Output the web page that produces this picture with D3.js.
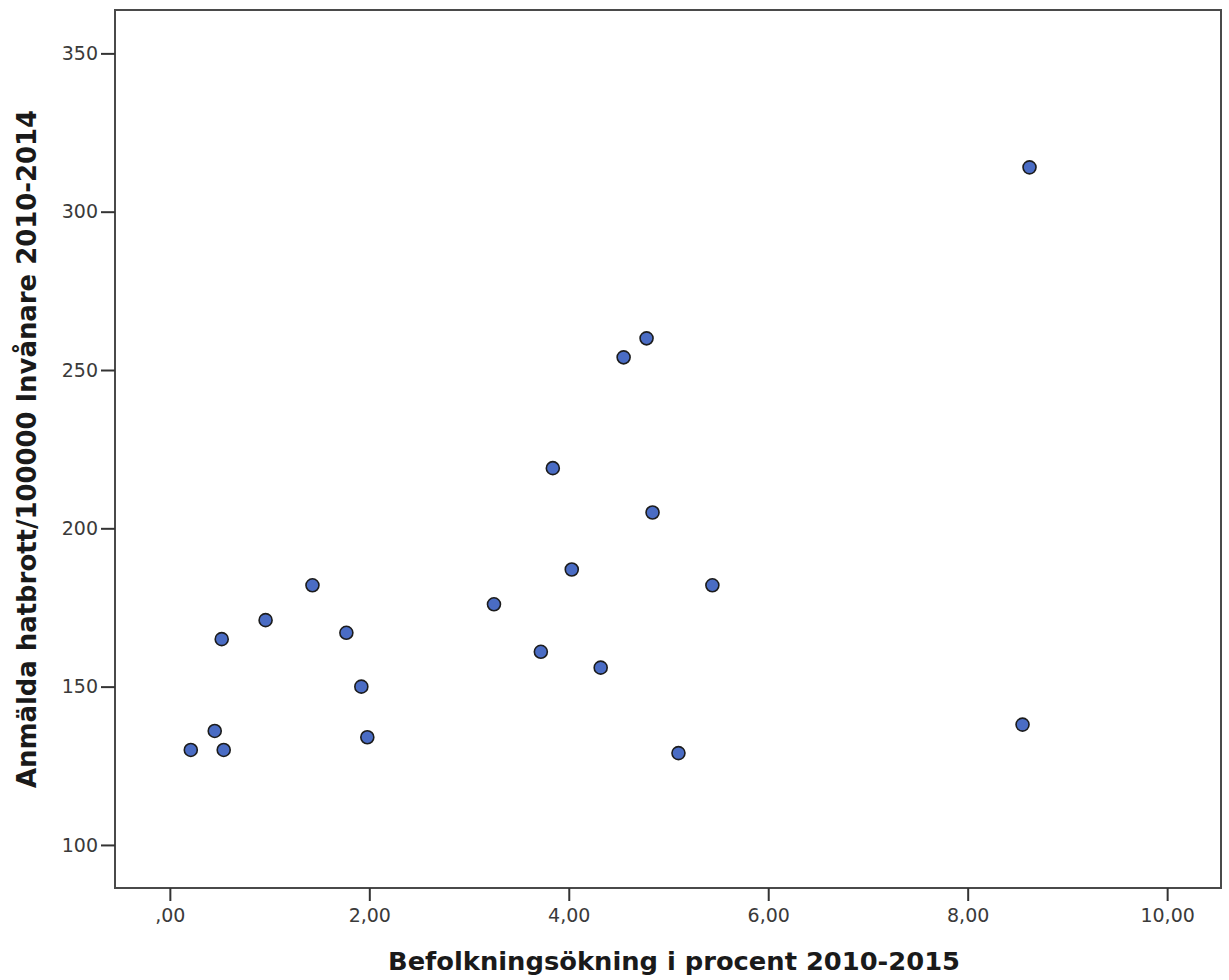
<!DOCTYPE html>
<html>
<head>
<meta charset="utf-8">
<script src="https://cdn.jsdelivr.net/npm/d3@7"></script>
<style>
  html, body { margin: 0; padding: 0; background: #fff; }
  svg { display: block; }
</style>
</head>
<body>
<svg id="chart" width="1229" height="980"></svg>
<script>
// Data
const popGrowth = [0.21, 0.45, 0.54, 0.52, 0.96, 1.43, 1.77, 1.92, 1.98, 3.25, 3.72, 3.84, 4.03, 4.32, 4.55, 4.78, 4.84, 5.10, 5.44, 8.55, 8.62];
const hateCrimes = [130, 136, 130, 165, 171, 182, 167, 150, 134, 176, 161, 219, 187, 156, 254, 260, 205, 129, 182, 138, 314];
const xTicks = [0, 2, 4, 6, 8, 10];
const yTicks = [100, 150, 200, 250, 300, 350];
const xTitle = "Befolkningsökning i procent 2010-2015";
const yTitle = "Anmälda hatbrott/100000 Invånare 2010-2014";

(function () {
const svg = d3.select("#chart");
const pLeft = 115, pRight = 1221, pTop = 10, pBottom = 888;

const x = d3.scaleLinear().domain([-0.55, 10.54]).range([pLeft, pRight]);
const y = d3.scaleLinear().domain([86.4, 363.7]).range([pBottom, pTop]);

const fmtX = v => {
  const s = d3.format(".2f")(v).replace(".", ",");
  return s.startsWith("0,") ? s.slice(1) : s;
};

// frame
svg.append("rect")
  .attr("x", pLeft).attr("y", pTop)
  .attr("width", pRight - pLeft).attr("height", pBottom - pTop)
  .attr("fill", "none").attr("stroke", "#4a4a4a").attr("stroke-width", 2);

// x axis
const xAxis = svg.append("g")
  .attr("transform", `translate(0,${pBottom})`)
  .call(d3.axisBottom(x).tickValues(xTicks).tickFormat(fmtX).tickSize(13).tickPadding(8));
xAxis.select(".domain").remove();
xAxis.selectAll(".tick line").attr("stroke", "#333").attr("stroke-width", 2);
xAxis.selectAll(".tick text")
  .attr("font-family", "DejaVu Sans, sans-serif").attr("font-size", 19).attr("fill", "#3a3a3a");

// y axis
const yAxis = svg.append("g")
  .attr("transform", `translate(${pLeft},0)`)
  .call(d3.axisLeft(y).tickValues(yTicks).tickFormat(d3.format("d")).tickSize(14).tickPadding(3));
yAxis.select(".domain").remove();
yAxis.selectAll(".tick line").attr("stroke", "#333").attr("stroke-width", 2);
yAxis.selectAll(".tick text")
  .attr("font-family", "DejaVu Sans, sans-serif").attr("font-size", 19).attr("fill", "#3a3a3a");

// titles
svg.append("text")
  .attr("x", (388 + 960) / 2).attr("y", 970)
  .attr("text-anchor", "middle")
  .attr("font-family", "DejaVu Sans, sans-serif").attr("font-weight", "bold")
  .attr("font-size", 24).attr("fill", "#1a1a1a")
  .attr("textLength", 572).attr("lengthAdjust", "spacingAndGlyphs")
  .text(xTitle);

svg.append("text")
  .attr("transform", `translate(36,${(110 + 788) / 2}) rotate(-90)`)
  .attr("text-anchor", "middle")
  .attr("font-family", "DejaVu Sans, sans-serif").attr("font-weight", "bold")
  .attr("font-size", 27).attr("fill", "#1a1a1a")
  .attr("textLength", 678).attr("lengthAdjust", "spacingAndGlyphs")
  .text(yTitle);

// points
const pts = popGrowth.map((v, i) => ({ x: v, y: hateCrimes[i] }));
svg.append("g").selectAll("circle").data(pts).join("circle")
  .attr("cx", d => x(d.x)).attr("cy", d => y(d.y)).attr("r", 6.5)
  .attr("fill", "#4a6cc4").attr("stroke", "#1c1c1c").attr("stroke-width", 1.6);
})();
</script>
</body>
</html>
